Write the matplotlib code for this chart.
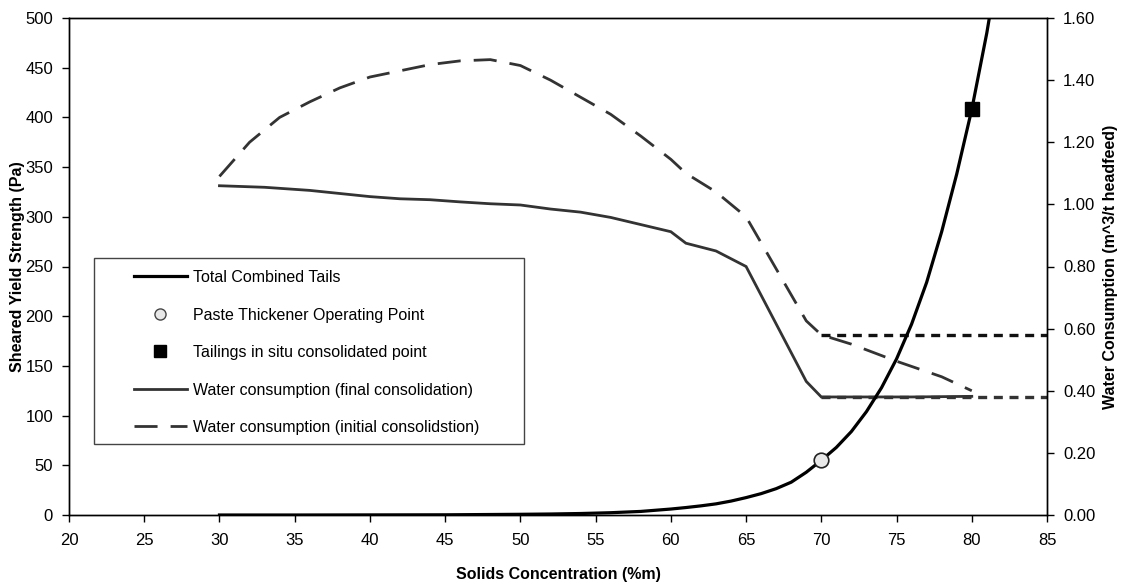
import matplotlib
matplotlib.use("Agg")
import matplotlib.pyplot as plt
from matplotlib.lines import Line2D
from matplotlib.patches import Rectangle

plt.rcParams['font.family'] = ['Liberation Sans', 'DejaVu Sans']

# Total Combined Tails: sheared yield strength (Pa) vs solids concentration (%m)
tails_x = [30, 35, 40, 45, 50, 52, 54, 56, 58, 60, 61, 62, 63, 64, 65, 66, 67, 68,
           69, 70, 71, 72, 73, 74, 75, 76, 77, 78, 79, 80, 81, 81.5]
tails_y = [0, 0, 0.1, 0.2, 0.7, 1.0, 1.5, 2.3, 3.6, 6.0, 7.5, 9.2, 11.2, 14, 17.5, 21.5,
           26.5, 33, 43, 55, 68, 84, 104, 128, 157, 192, 234, 285, 343, 408, 485, 530]

# Operating points
paste_x = [70]
paste_y = [55]
insitu_x = [80]
insitu_y = [408]

# Water consumption (m^3/t headfeed)
final_x = [30, 33, 36, 38, 40, 42, 44, 46, 48, 50, 52, 54, 56, 58, 60, 61, 63, 65, 69, 70, 72, 76, 80]
final_y = [1.06, 1.055, 1.045, 1.035, 1.025, 1.018, 1.015, 1.008, 1.002, 0.998, 0.985, 0.975,
           0.958, 0.935, 0.912, 0.875, 0.85, 0.80, 0.43, 0.38, 0.38, 0.38, 0.382]
init_x = [30, 32, 34, 36, 38, 40, 42, 44, 46, 48, 50, 52, 54, 56, 58, 60, 61, 63, 65, 69, 70,
          72, 75, 78, 80]
init_y = [1.09, 1.20, 1.28, 1.33, 1.375, 1.41, 1.43, 1.45, 1.462, 1.466, 1.447, 1.40, 1.345,
          1.29, 1.22, 1.145, 1.10, 1.04, 0.96, 0.625, 0.58, 0.55, 0.495, 0.445, 0.40]

# Horizontal reference levels
ref_x = [70, 85]
ref_init = [0.58, 0.58]
ref_final = [0.38, 0.38]

x_ticks = list(range(20, 90, 5))
y_ticks = list(range(0, 550, 50))
y2_ticks = [0.0, 0.2, 0.4, 0.6, 0.8, 1.0, 1.2, 1.4, 1.6]

W, H = 1121, 586
fig = plt.figure(figsize=(W / 100, H / 100), dpi=100)
L, R, T, B = 69, 1047, 18, 515
ax = fig.add_axes([L / W, 1 - B / H, (R - L) / W, (B - T) / H])
ax2 = ax.twinx()

gray = '#333333'
lw_w = 2.0
dash_init = (8.3, 4.7)
dash_ref = (2.7, 2.0)

ax2.plot(final_x, final_y, color=gray, lw=lw_w, solid_joinstyle='miter')
ax2.plot(init_x, init_y, color=gray, lw=lw_w, dashes=dash_init)
ax2.plot(ref_x, ref_init, color='#111111', lw=2.4, dashes=dash_ref)
ax2.plot(ref_x, ref_final, color='#333333', lw=2.4, dashes=dash_ref)

ax.set_zorder(ax2.get_zorder() + 1)
ax.patch.set_visible(False)
ax.plot(tails_x, tails_y, color='black', lw=2.3)
ax.plot(paste_x, paste_y, 'o', ms=10.5, mfc='#e8e8e8', mec='#222222', mew=1.2)
ax.plot(insitu_x, insitu_y, 's', ms=10.5, mfc='black', mec='black')

ax.set_xlim(20, 85)
ax.set_ylim(0, 500)
ax2.set_ylim(0, 1.6)
ax.set_xticks(x_ticks)
ax.set_yticks(y_ticks)
ax2.set_yticks(y2_ticks)
ax2.set_yticklabels([f'{v:.2f}' for v in y2_ticks])

fs = 12
ax.tick_params(axis='x', direction='out', length=5, width=1, labelsize=fs, pad=8)
ax.tick_params(axis='y', direction='out', length=5, width=1, labelsize=fs, pad=6.5)
ax2.tick_params(axis='y', direction='out', length=5, width=1, labelsize=fs, pad=6.5)
for a in (ax, ax2):
    for s in a.spines.values():
        s.set_linewidth(1)

lab_fs = 11.5
ax.set_xlabel('Solids Concentration (%m)', fontsize=lab_fs, fontweight='bold')
ax.set_ylabel('Sheared Yield Strength (Pa)', fontsize=lab_fs, fontweight='bold')
ax2.set_ylabel('Water Consumption (m^3/t headfeed)', fontsize=lab_fs, fontweight='bold')
ax.xaxis.label.set_va('center')
ax.yaxis.label.set_va('center')
ax2.yaxis.label.set_va('center')
ax.xaxis.set_label_coords(0.5, (B - 575) / (B - T))
ax.yaxis.set_label_coords((18 - L) / (R - L), 0.5)
ax2.yaxis.set_label_coords((1110 - L) / (R - L), 0.5)

# Legend
handles = [
    Line2D([], [], color='black', lw=2.3),
    Line2D([], [], ls='none', marker='o', ms=8, mfc='#e8e8e8', mec='#444444', mew=1),
    Line2D([], [], ls='none', marker='s', ms=8, mfc='black', mec='black'),
    Line2D([], [], color=gray, lw=lw_w),
    Line2D([], [], color=gray, lw=lw_w, dashes=dash_init),
]
labels = ['Total Combined Tails', 'Paste Thickener Operating Point',
          'Tailings in situ consolidated point', 'Water consumption (final consolidation)',
          'Water consumption (initial consolidstion)']
fx0, fx1, fy0, fy1 = 94, 524, 258, 444
fig.patches.append(Rectangle((fx0 / W, 1 - fy1 / H), (fx1 - fx0) / W, (fy1 - fy0) / H,
                             transform=fig.transFigure, fill=True, facecolor='white',
                             edgecolor='#444444', lw=1, zorder=5))
leg = fig.legend(handles, labels, loc='upper left', bbox_to_anchor=(134 / W, 1 - 270 / H),
                 frameon=False, fontsize=11.5, handlelength=3.3, handletextpad=0.4,
                 labelspacing=1.41, borderpad=0, borderaxespad=0)
leg.set_zorder(6)

fig.savefig('out.png', dpi=100)
